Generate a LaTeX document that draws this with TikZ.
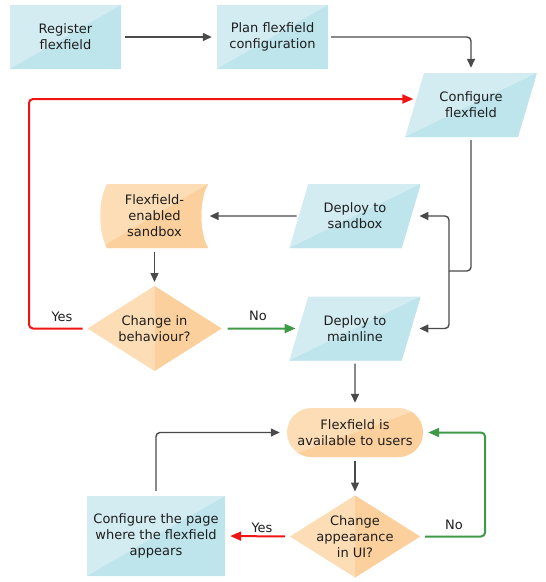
\documentclass[tikz,border=0pt]{standalone}
\usepackage{fontspec}
\setmainfont{DejaVu Sans}
\usetikzlibrary{shapes.geometric,shapes.misc,arrows.meta,calc}
\definecolor{bluelt}{RGB}{211,236,242}
\definecolor{bluedk}{RGB}{190,228,236}
\definecolor{orlt}{RGB}{253,221,181}
\definecolor{ordk}{RGB}{252,208,157}
\definecolor{lineg}{RGB}{74,74,74}
\definecolor{redl}{RGB}{240,20,20}
\definecolor{greenl}{RGB}{61,154,70}
\definecolor{txt}{RGB}{30,30,30}
\tikzset{
  base/.style={align=center, text=txt, font=\fontsize{13}{16}\selectfont, inner sep=0pt},
  bluediag/.style={fill=bluelt, path picture={\fill[bluedk] (path picture bounding box.south west) -- (path picture bounding box.north east) -- (path picture bounding box.south east) -- cycle;}},
  ordiag/.style={fill=orlt, path picture={\fill[ordk] (path picture bounding box.south west) -- (path picture bounding box.north east) -- (path picture bounding box.south east) -- cycle;}},
  orvert/.style={fill=orlt, path picture={\fill[ordk] (path picture bounding box.north) rectangle (path picture bounding box.south east);}},
  bluebox/.style={base, rectangle, bluediag},
  para/.style={base, trapezium, trapezium left angle=64, trapezium right angle=116, trapezium stretches=true, minimum width=132pt, minimum height=64pt, bluediag},
  ordiamond/.style={diamond, inner sep=0pt, outer sep=0pt, orvert},
  orstadium/.style={base, rounded rectangle, minimum width=136pt, minimum height=49pt, ordiag},
  lbl/.style={base},
  garrow/.style={draw=lineg, line width=1.4pt, rounded corners=4pt, -{Triangle[length=9pt,width=8pt]}},
  gline/.style={draw=lineg, line width=1.4pt, rounded corners=4pt},
  rarrow/.style={draw=redl, line width=2pt, rounded corners=4pt, -{Triangle[length=11pt,width=9pt]}},
  grarrow/.style={draw=greenl, line width=2pt, rounded corners=4pt, -{Triangle[length=11pt,width=9pt]}},
}
\begin{document}
\begin{tikzpicture}[x=1pt,y=-1pt]
\useasboundingbox (0,0) rectangle (546,582);
% flexfield-enabled sandbox shape
\fill[orlt] (107,184) -- (208,184) .. controls (199,200) and (199,232) .. (208,248) -- (107,248) .. controls (98,232) and (98,200) .. (107,184) -- cycle;
\begin{scope}
\clip (107,184) -- (208,184) .. controls (199,200) and (199,232) .. (208,248) -- (107,248) .. controls (98,232) and (98,200) .. (107,184) -- cycle;
\fill[ordk] (100,248) -- (208,184) -- (208,248) -- cycle;
\end{scope}
% nodes
\node[bluebox, minimum width=111pt, minimum height=64pt] (reg) at (65.5,37) {Register\\flexfield};
\node[bluebox, minimum width=111pt, minimum height=64pt] (plan) at (272.5,37) {Plan flexfield\\configuration};
\node[para] (conf) at (471,105) {Configure\\flexfield};
\node[para] (dsb) at (355,216) {Deploy to\\sandbox};
\node[base, minimum width=108pt, minimum height=64pt] (sbx) at (154.5,216) {Flexfield-\\enabled\\sandbox};
\node[ordiamond, minimum width=134pt, minimum height=85pt] (d1) at (154.5,328.5) {};
\node[base] (d1t) at (d1.center) {Change in\\behaviour?};
\node[para] (dml) at (355,328.5) {Deploy to\\mainline};
\node[orstadium] (av) at (355,432.5) {Flexfield is\\available to users};
\node[ordiamond, minimum width=130pt, minimum height=82pt] (d2) at (355,536.5) {};
\node[base] (d2t) at (d2.center) {Change\\appearance\\in UI?};
\node[bluebox, minimum width=138pt, minimum height=80pt] (page) at (156,536) {Configure the page\\where the flexfield\\appears};
% connectors
\coordinate (fork) at (449,271);
\coordinate (rc) at (29,99);
\coordinate (gc) at (485,432.5);
\draw[garrow, shorten <=4pt, shorten >=5pt] (reg) -- (plan);
\draw[garrow, shorten <=3pt, shorten >=5pt] (plan.east) -| (conf.north);
\draw[gline, shorten <=3pt] (conf.south) |- (fork);
\draw[garrow, shorten >=8pt] (fork) |- (dsb.east);
\draw[garrow, shorten >=8pt] (fork) |- (dml.east);
\draw[garrow, shorten <=2pt, shorten >=1pt] (dsb.west) -- (sbx.east);
\draw[garrow, shorten <=4pt, shorten >=4pt] (sbx.south) -- (d1.north);
\draw[rarrow, shorten <=5pt, shorten >=1pt] (d1.west) -| (rc) -- (rc -| conf.west);
\node[lbl] (yes1) at (62,317) {Yes};
\draw[grarrow, shorten <=6pt, shorten >=3pt] (d1.east) -- (dml.west);
\node[lbl] (no1) at (258,316) {No};
\draw[garrow, shorten <=3pt, shorten >=5pt] (dml.south) -- (av.north);
\draw[garrow, shorten <=4pt, shorten >=4pt] (av.south) -- (d2.north);
\draw[rarrow, shorten <=5pt, shorten >=5pt] (d2.west) -- (page.east);
\node[lbl] (yes2) at (262,528) {Yes};
\draw[grarrow, shorten <=5pt, shorten >=5pt] (d2.east) -| (gc) -- (av.east);
\node[lbl] (no2) at (454,525) {No};
\draw[garrow, shorten <=5pt, shorten >=7pt] (page.north) |- (av.west);
\end{tikzpicture}
\end{document}
